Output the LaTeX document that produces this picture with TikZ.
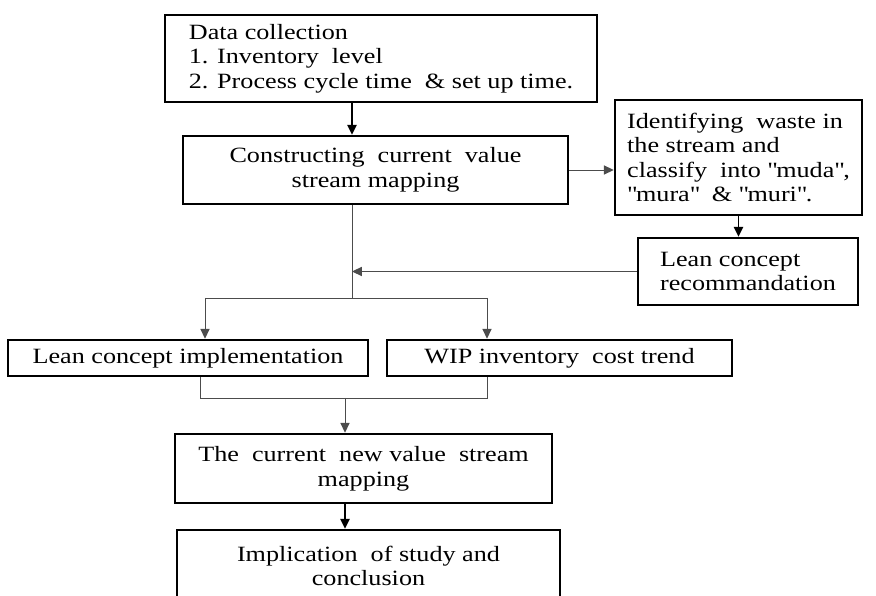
\documentclass[tikz,border=0pt]{standalone}
\usepackage{fontspec}
\setmainfont[FakeStretch=1.2]{Liberation Serif}
\usetikzlibrary{arrows.meta,positioning}

\begin{document}
\begin{tikzpicture}[x=0.025cm,y=-0.025cm,
    >={Triangle[length=7pt,width=6.5pt]},
    box/.style={draw,line width=1.8pt,inner sep=2pt,
                font=\fontsize{15.5}{17.5}\selectfont},
    link/.style={draw=black!70,line width=0.7pt},
    arr/.style={link,->}]

  \clip (0,0) rectangle (876,596);

  \node[box,align=left,minimum width=432*0.025cm,minimum height=87*0.025cm]
       (data)  at (381,58.5)  {Data collection\\1. Inventory\ \ level\\2. Process cycle time \ \& set up time.};
  \node[box,align=center,minimum width=385*0.025cm,minimum height=68*0.025cm]
       (cur)   at (375.5,170) {Constructing\ \ current\ \ value\\stream mapping};
  \node[box,align=left,minimum width=247*0.025cm,minimum height=115*0.025cm]
       (waste) at (738.5,157.5) {Identifying\ \ waste in\\the stream and\\classify\ \ into \textquotedbl muda\textquotedbl,\\\textquotedbl mura\textquotedbl\ \ \& \textquotedbl muri\textquotedbl.};
  \node[box,align=left,minimum width=220*0.025cm,minimum height=67*0.025cm]
       (rec)   at (748,271.5) {Lean concept\\recommandation};
  \node[box,minimum width=360*0.025cm,minimum height=36*0.025cm]
       (impl)  at (188,358)   {Lean concept implementation};
  \node[box,minimum width=345*0.025cm,minimum height=36*0.025cm]
       (wip)   at (559.5,358) {WIP inventory\ \ cost trend};
  \node[box,align=center,minimum width=377*0.025cm,minimum height=69*0.025cm]
       (new)   at (363.5,468.5) {The\ \ current\ \ new value\ \ stream\\mapping};
  \node[box,align=center,minimum width=383*0.025cm,minimum height=72*0.025cm]
       (concl) at (368.5,566) {Implication\ \ of study and\\conclusion};

  % junction points
  \coordinate (split) at (352,298);
  \coordinate (lft)   at (205,298);
  \coordinate (rgt)   at (487,298);
  \coordinate (jl)    at (200,398);
  \coordinate (jr)    at (487,398);
  \coordinate (merge) at (345,398);

  \draw[arr,draw=black,line width=1.4pt] (data.south -| split) -- (cur.north -| split);
  \draw[arr] (cur.east) -- (waste.west |- cur.east);
  \draw[arr,draw=black,line width=1.4pt] (waste.south) -- (waste.south |- rec.north);
  \draw[link] (cur.south -| split) -- (split);
  \draw[arr] (rec.west) -- (rec.west -| split);
  \draw[link] (lft) -- (rgt);
  \draw[arr] (lft) -- (lft |- impl.north);
  \draw[arr] (rgt) -- (rgt |- wip.north);
  \draw[link] (impl.south -| jl) -- (jl) -- (jr) -- (wip.south -| jr);
  \draw[arr] (merge) -- (merge |- new.north);
  \draw[arr,draw=black,line width=1.4pt] (new.south -| merge) -- (concl.north -| merge);
\end{tikzpicture}
\end{document}
